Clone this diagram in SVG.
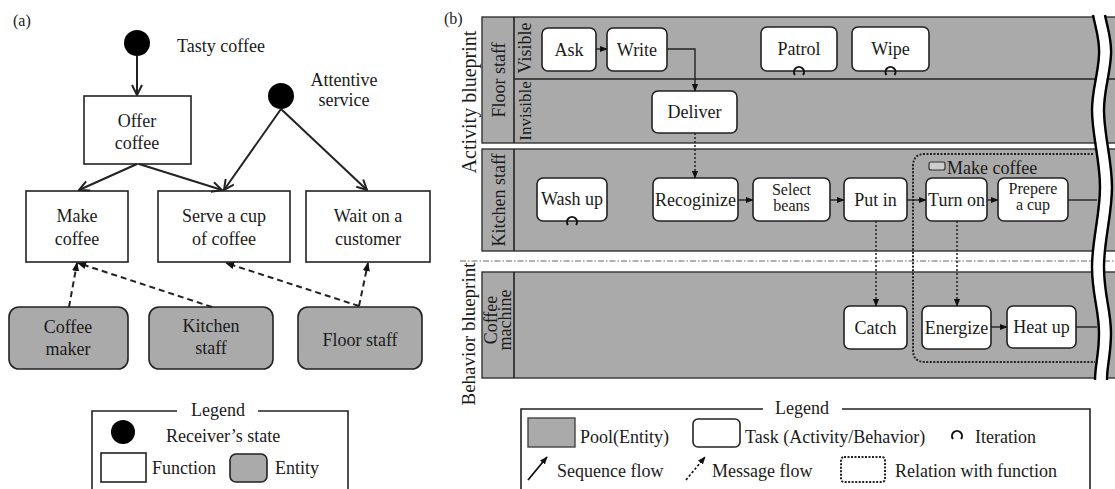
<svg xmlns="http://www.w3.org/2000/svg" width="1115" height="489" viewBox="0 0 1115 489" font-family="'Liberation Serif', 'Times New Roman', serif">
<style>
text{font-family:"Liberation Serif","Times New Roman",serif;font-size:18px;fill:#1a1a1a}
.c{text-anchor:middle}
.fn{fill:#fff;stroke:#222;stroke-width:1.6}
.ent{fill:#aaa;stroke:#222;stroke-width:1.6}
.pool{fill:#aaa;stroke:#333;stroke-width:1.4}
.task{fill:#fff;stroke:#222;stroke-width:1.6}
.ln{fill:none;stroke:#222;stroke-width:1.6}
.sol{fill:none;stroke:#222;stroke-width:2}
.dash{fill:none;stroke:#222;stroke-width:2;stroke-dasharray:6 4}
.msg{fill:none;stroke:#222;stroke-width:1.5;stroke-dasharray:2 2}
.seq{fill:none;stroke:#222;stroke-width:1.4}
.it{fill:none;stroke:#111;stroke-width:2}
.sm{font-size:16px}
</style>
<defs>
<marker id="open" viewBox="0 0 12 12" refX="11" refY="6" markerWidth="12" markerHeight="12" markerUnits="userSpaceOnUse" orient="auto"><path d="M1,1 L11,6 L1,11" fill="none" stroke="#222" stroke-width="2"/></marker>
<marker id="tri" viewBox="0 0 10 10" refX="9" refY="5" markerWidth="9" markerHeight="9" markerUnits="userSpaceOnUse" orient="auto"><path d="M0,1 L10,5 L0,9 Z" fill="#111"/></marker>
<marker id="tris" viewBox="0 0 10 10" refX="9" refY="5" markerWidth="8" markerHeight="8" markerUnits="userSpaceOnUse" orient="auto"><path d="M0,1 L10,5 L0,9 Z" fill="#111"/></marker>
</defs>
<rect width="1115" height="489" fill="#fff"/>

<!-- ===== Panel (a) ===== -->
<text x="13" y="26" style="font-size:16px">(a)</text>
<g id="state-tasty"><circle cx="137" cy="43" r="13" fill="#000"/><text x="177" y="52">Tasty coffee</text></g>
<g id="state-attentive"><circle cx="281" cy="96" r="13" fill="#000"/><text class="c" x="344" y="86">Attentive</text><text class="c" x="344" y="106">service</text></g>
<g id="fn-offer"><rect class="fn" x="84" y="96" width="107" height="68"/><text class="c" x="137" y="127">Offer</text><text class="c" x="137" y="149">coffee</text></g>
<g id="fn-make"><rect class="fn" x="26" y="191" width="102" height="71"/><text class="c" x="77" y="222">Make</text><text class="c" x="77" y="245">coffee</text></g>
<g id="fn-serve"><rect class="fn" x="158" y="191" width="132" height="71"/><text class="c" x="224" y="222">Serve a cup</text><text class="c" x="224" y="245">of coffee</text></g>
<g id="fn-wait"><rect class="fn" x="306" y="191" width="124" height="71"/><text class="c" x="368" y="222">Wait on a</text><text class="c" x="368" y="245">customer</text></g>
<g id="ent-coffeemaker"><rect class="ent" x="9" y="307" width="119" height="62" rx="10"/><text class="c" x="68" y="333">Coffee</text><text class="c" x="68" y="355">maker</text></g>
<g id="ent-kitchen"><rect class="ent" x="149" y="307" width="124" height="62" rx="10"/><text class="c" x="211" y="332">Kitchen</text><text class="c" x="211" y="354">staff</text></g>
<g id="ent-floor"><rect class="ent" x="298" y="307" width="124" height="62" rx="10"/><text class="c" x="360" y="346">Floor staff</text></g>
<g id="connectors-a">
<line class="sol" x1="137" y1="56" x2="137" y2="95" marker-end="url(#open)"/>
<line class="sol" x1="137" y1="164" x2="79" y2="190" marker-end="url(#open)"/>
<line class="sol" x1="139" y1="164" x2="222" y2="190" marker-end="url(#open)"/>
<line class="sol" x1="281" y1="109" x2="224" y2="190" marker-end="url(#open)"/>
<line class="sol" x1="281" y1="109" x2="367" y2="190" marker-end="url(#open)"/>
<line class="dash" x1="69" y1="307" x2="77" y2="263" marker-end="url(#tri)"/>
<line class="dash" x1="212" y1="307" x2="78" y2="263" marker-end="url(#tri)"/>
<line class="dash" x1="359" y1="306" x2="226" y2="263" marker-end="url(#tri)"/>
<line class="dash" x1="359" y1="306" x2="368" y2="263" marker-end="url(#tri)"/>
</g>
<g id="legend-a">
<path class="ln" d="M177,411 H92 V495 M348,495 V411 H258"/>
<text class="c" x="218" y="416">Legend</text>
<circle cx="123" cy="432" r="12" fill="#000"/>
<text x="166" y="442">Receiver’s state</text>
<rect class="fn" x="101" y="453" width="45" height="29"/>
<text x="152" y="474">Function</text>
<rect class="ent" x="230" y="454" width="37" height="28" rx="6"/>
<text x="275" y="474">Entity</text>
</g>

<!-- ===== Panel (b) ===== -->
<text x="444" y="24" style="font-size:16px">(b)</text>
<g id="pools">
<g id="pool-floor"><rect class="pool" x="482" y="17" width="640" height="126"/><line class="ln" x1="514" y1="17" x2="514" y2="143"/><line class="ln" x1="514" y1="79" x2="1115" y2="79"/>
<text transform="translate(505,80) rotate(-90)" class="c">Floor staff</text>
<text transform="translate(531,48) rotate(-90)" class="c">Visible</text>
<text transform="translate(531,111) rotate(-90)" class="c" style="font-size:17px">Invisible</text></g>
<g id="pool-kitchen"><rect class="pool" x="482" y="149" width="640" height="102"/><line class="ln" x1="514" y1="149" x2="514" y2="251"/>
<text transform="translate(505,200) rotate(-90)" class="c">Kitchen staff</text></g>
<g id="pool-machine"><rect class="pool" x="482" y="272" width="640" height="106"/><line class="ln" x1="514" y1="272" x2="514" y2="378"/>
<text transform="translate(497,320) rotate(-90)" class="c">Coffee</text>
<text transform="translate(511,320) rotate(-90)" class="c">machine</text></g>
<line x1="460" y1="261" x2="1115" y2="261" stroke="#666" stroke-width="1.2" stroke-dasharray="6 2 1.5 2"/>
<text transform="translate(476,102) rotate(-90)" class="c" style="font-size:20px">Activity blueprint</text>
<text transform="translate(475,334) rotate(-90)" class="c" style="font-size:19px">Behavior blueprint</text>
</g>

<g id="make-coffee-relation">
<path d="M1093,154 H925 Q913,154 913,166 V350 Q913,362 925,362 H1095" fill="none" stroke="#222" stroke-width="2" stroke-dasharray="2 1.5"/>
<rect x="929" y="162" width="16" height="8" rx="2" fill="#ccc" stroke="#333" stroke-width="1.2"/>
<text x="947" y="174">Make coffee</text>
</g>

<g id="tasks">
<g id="t-ask"><rect class="task" x="542" y="28" width="54" height="43" rx="6"/><text class="c" x="569" y="56">Ask</text></g>
<g id="t-write"><rect class="task" x="607" y="28" width="60" height="43" rx="6"/><text class="c" x="637" y="56">Write</text></g>
<g id="t-patrol"><rect class="task" x="761" y="27" width="76" height="44" rx="6"/><text class="c" x="799" y="55">Patrol</text><path class="it" d="M795,75 A5,5 0 1 1 803,75"/></g>
<g id="t-wipe"><rect class="task" x="852" y="27" width="77" height="44" rx="6"/><text class="c" x="890.5" y="55">Wipe</text><path class="it" d="M886.5,75 A5,5 0 1 1 894.5,75"/></g>
<g id="t-deliver"><rect class="task" x="652" y="91" width="85" height="42" rx="6"/><text class="c" x="694.5" y="118">Deliver</text></g>
<g id="t-washup"><rect class="task" x="537" y="178" width="70" height="43" rx="6"/><text class="c" x="572" y="205">Wash up</text><path class="it" d="M568,225 A5,5 0 1 1 576,225"/></g>
<g id="t-recog"><rect class="task" x="653" y="178" width="85" height="43" rx="6"/><text class="c" x="695.5" y="206">Recoginize</text></g>
<g id="t-select"><rect class="task" x="753" y="178" width="77" height="43" rx="6"/><text class="c sm" x="791.5" y="195">Select</text><text class="c sm" x="791.5" y="211">beans</text></g>
<g id="t-putin"><rect class="task" x="844" y="178" width="63" height="43" rx="6"/><text class="c" x="875.5" y="206">Put in</text></g>
<g id="t-turnon"><rect class="task" x="926" y="178" width="61" height="43" rx="6"/><text class="c" x="956.5" y="206">Turn on</text></g>
<g id="t-prepere"><rect class="task" x="998" y="178" width="70" height="43" rx="6"/><text class="c sm" x="1033" y="194">Prepere</text><text class="c sm" x="1033" y="210">a cup</text></g>
<g id="t-catch"><rect class="task" x="844" y="306" width="63" height="43" rx="6"/><text class="c" x="875.5" y="334">Catch</text></g>
<g id="t-energize"><rect class="task" x="922" y="306" width="69" height="43" rx="6"/><text class="c" x="956.5" y="334">Energize</text></g>
<g id="t-heatup"><rect class="task" x="1007" y="306" width="69" height="42" rx="6"/><text class="c" x="1041.5" y="333">Heat up</text></g>
</g>

<g id="connectors-b">
<line class="seq" x1="596" y1="49" x2="607" y2="49" marker-end="url(#tris)"/>
<path class="seq" d="M667,49 H695 V91" marker-end="url(#tris)"/>
<line class="seq" x1="738" y1="200" x2="753" y2="200" marker-end="url(#tris)"/>
<line class="seq" x1="830" y1="200" x2="844" y2="200" marker-end="url(#tris)"/>
<line class="seq" x1="907" y1="200" x2="926" y2="200" marker-end="url(#tris)"/>
<line class="seq" x1="987" y1="200" x2="998" y2="200" marker-end="url(#tris)"/>
<line class="seq" x1="1068" y1="200" x2="1097" y2="200"/>
<line class="seq" x1="991" y1="327" x2="1007" y2="327" marker-end="url(#tris)"/>
<line class="seq" x1="1076" y1="327" x2="1097" y2="327"/>
<line class="msg" x1="695" y1="133" x2="695" y2="178" marker-end="url(#tris)"/>
<line class="msg" x1="876" y1="221" x2="876" y2="306" marker-end="url(#tris)"/>
<line class="msg" x1="957" y1="221" x2="957" y2="306" marker-end="url(#tris)"/>
</g>

<g id="break">
<path d="M1099,15 C1102,30 1106,40 1105,55 C1104,75 1098,90 1098,110 C1098,135 1106,160 1106,187 C1106,215 1098,240 1098,267 C1098,295 1105,310 1105,333 C1105,355 1101,365 1101,380" fill="none" stroke="#fff" stroke-width="10"/>
<path d="M1093,15 C1096,30 1100,40 1099,55 C1098,75 1092,90 1092,110 C1092,135 1100,160 1100,187 C1100,215 1092,240 1092,267 C1092,295 1099,310 1099,333 C1099,355 1095,365 1095,380" fill="none" stroke="#000" stroke-width="2.4"/>
<path d="M1105,15 C1108,30 1112,40 1111,55 C1110,75 1104,90 1104,110 C1104,135 1112,160 1112,187 C1112,215 1104,240 1104,267 C1104,295 1111,310 1111,333 C1111,355 1107,365 1107,380" fill="none" stroke="#000" stroke-width="2.4"/>
</g>

<g id="legend-b">
<path class="ln" d="M763,409 H521 V495 M1090,495 V409 H842"/>
<text class="c" x="802" y="414">Legend</text>
<rect x="528" y="418" width="47" height="29" fill="#aaa" stroke="#444" stroke-width="1.4"/>
<text x="580" y="443">Pool(Entity)</text>
<rect class="task" x="693" y="419" width="47" height="28" rx="5"/>
<text x="745" y="443">Task (Activity/Behavior)</text>
<path class="it" d="M953,439 A5,5 0 1 1 961,439"/>
<text x="975" y="443">Iteration</text>
<line x1="528" y1="480" x2="547" y2="457" stroke="#111" stroke-width="1.8" marker-end="url(#tris)"/>
<text x="557" y="477">Sequence flow</text>
<line x1="686" y1="480" x2="705" y2="457" stroke="#111" stroke-width="1.6" stroke-dasharray="2.5 2" marker-end="url(#tris)"/>
<text x="712" y="477">Message flow</text>
<rect x="841" y="457" width="44" height="25" rx="3" fill="none" stroke="#222" stroke-width="2" stroke-dasharray="2 1.5"/>
<text x="895" y="477">Relation with function</text>
</g>
</svg>
